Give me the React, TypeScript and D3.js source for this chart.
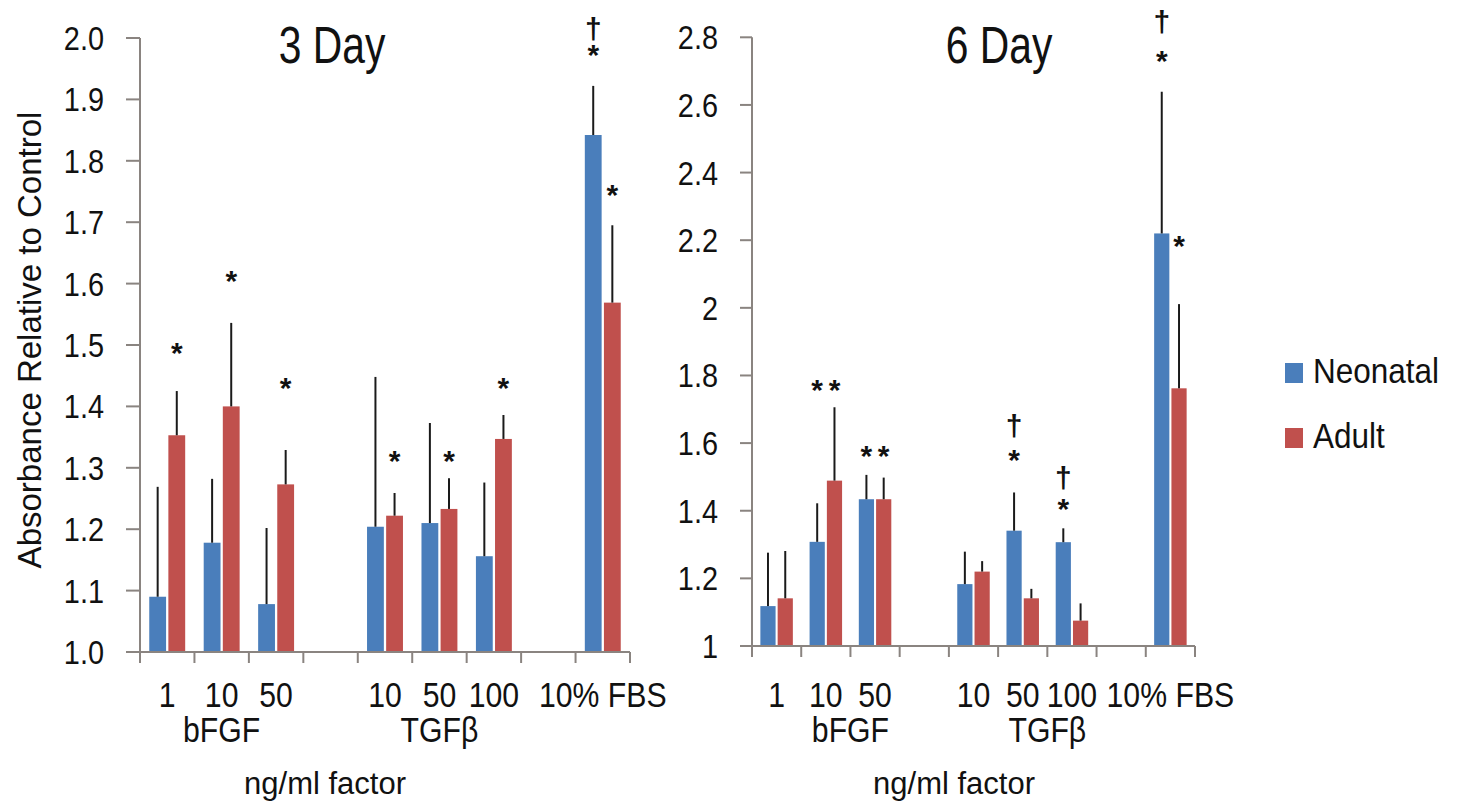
import React, { useEffect, useRef } from 'react';
import * as d3 from 'd3';

// category labels along x (blank slots are the gaps between groups)
const categories = ['1', '10', '50', '', '10', '50', '100', '', '10% FBS'];
const groupLabels = ['bFGF', 'TGFβ'];
const groupMiddle = [1, 5];
const series = ['Neonatal', 'Adult'];
const seriesColors = ['#4a7ebb', '#c0504d'];

// 3 day values (null = empty slot)
const day3Neonatal = [1.09, 1.178, 1.078, null, 1.204, 1.21, 1.156, null, 1.842];
const day3NeonatalErr = [0.179, 0.104, 0.124, null, 0.244, 0.163, 0.12, null, 0.08];
const day3Adult = [1.353, 1.4, 1.273, null, 1.222, 1.233, 1.347, null, 1.569];
const day3AdultErr = [0.072, 0.136, 0.056, null, 0.037, 0.05, 0.039, null, 0.126];

// 6 day values
const day6Neonatal = [1.118, 1.308, 1.434, null, 1.183, 1.341, 1.307, null, 2.22];
const day6NeonatalErr = [0.158, 0.114, 0.072, null, 0.096, 0.113, 0.041, null, 0.419];
const day6Adult = [1.141, 1.489, 1.434, null, 1.22, 1.141, 1.075, null, 1.762];
const day6AdultErr = [0.14, 0.217, 0.064, null, 0.031, 0.028, 0.051, null, 0.249];

const day3Ticks = [1.0, 1.1, 1.2, 1.3, 1.4, 1.5, 1.6, 1.7, 1.8, 1.9, 2.0];
const day3TickLabels = ['1.0', '1.1', '1.2', '1.3', '1.4', '1.5', '1.6', '1.7', '1.8', '1.9', '2.0'];
const day6Ticks = [1, 1.2, 1.4, 1.6, 1.8, 2, 2.2, 2.4, 2.6, 2.8];
const day6TickLabels = ['1', '1.2', '1.4', '1.6', '1.8', '2', '2.2', '2.4', '2.6', '2.8'];

// significance marks: [category, series index, symbol, value where the symbol sits]
const day3Marks = [
  [0, 1, '*', 1.5],
  [1, 1, '*', 1.617],
  [2, 1, '*', 1.443],
  [4, 1, '*', 1.324],
  [5, 1, '*', 1.324],
  [6, 1, '*', 1.443],
  [8, 0, '†', 2.013],
  [8, 0, '*', 1.984],
  [8, 1, '*', 1.756],
];
const day6Marks = [
  [1, 0, '*', 1.778],
  [1, 1, '*', 1.778],
  [2, 0, '*', 1.585],
  [2, 1, '*', 1.585],
  [5, 0, '†', 1.649],
  [5, 0, '*', 1.571],
  [6, 0, '†', 1.494],
  [6, 0, '*', 1.427],
  [8, 0, '†', 2.841],
  [8, 0, '*', 2.752],
  [8, 1, '*', 2.205],
];

const FONT = '"Liberation Sans", Arial, sans-serif';

const panels = [
  {
    title: '3 Day', neo: day3Neonatal, neoErr: day3NeonatalErr, adult: day3Adult, adultErr: day3AdultErr,
    ticks: day3Ticks, tickLabels: day3TickLabels, marks: day3Marks, domain: [1, 2],
    left: 140, right: 630, top: 38, bottom: 652, tickLen: 14,
    titleX: 332, xLabelX: 325, groupShift: 0,
  },
  {
    title: '6 Day', neo: day6Neonatal, neoErr: day6NeonatalErr, adult: day6Adult, adultErr: day6AdultErr,
    ticks: day6Ticks, tickLabels: day6TickLabels, marks: day6Marks, domain: [1, 2.8],
    left: 752, right: 1195, top: 37.3, bottom: 646, tickLen: 12,
    titleX: 999, xLabelX: 954, groupShift: 0.5,
  },
];

function addText(g, str, x, y, size, sx, anchor = 'middle', rotate = 0) {
  return g.append('text')
    .attr('transform', `translate(${x},${y}) rotate(${rotate}) scale(${sx},1)`)
    .attr('text-anchor', anchor)
    .style('font-family', FONT)
    .style('font-size', `${size}px`)
    .attr('fill', '#111')
    .text(str);
}

const App = () => {
  const svgRef = useRef(null);

  useEffect(() => {
    const svg = d3.select(svgRef.current);
    svg.selectAll('*').remove();

    panels.forEach(p => {
      const g = svg.append('g');
      const y = d3.scaleLinear().domain(p.domain).range([p.bottom, p.top]);
      const x = d3.scaleBand()
        .domain(categories.map((c, i) => i))
        .range([p.left, p.right])
        .padding(0);
      const bw = x.bandwidth();
      const pad = bw * 0.17;
      const inner = d3.scaleBand().domain([0, 1]).range([pad, bw - pad]).paddingInner(0.12);

      // bars + error bars
      const seriesData = [[p.neo, p.neoErr], [p.adult, p.adultErr]];
      seriesData.forEach(([vals, errs], s) => {
        vals.forEach((v, i) => {
          if (v == null) return;
          const bx = x(i) + inner(s);
          g.append('rect')
            .attr('x', bx)
            .attr('y', y(v))
            .attr('width', inner.bandwidth())
            .attr('height', y(p.domain[0]) - y(v))
            .attr('fill', seriesColors[s]);
          const cx = bx + inner.bandwidth() / 2;
          g.append('line')
            .attr('x1', cx).attr('x2', cx)
            .attr('y1', y(v)).attr('y2', y(v + errs[i]))
            .attr('stroke', '#1a1a1a')
            .attr('stroke-width', 2);
        });
      });

      // axes
      const axisColor = '#8a8480';
      g.append('line')
        .attr('x1', p.left).attr('x2', p.left)
        .attr('y1', p.top).attr('y2', p.bottom)
        .attr('stroke', axisColor).attr('stroke-width', 2);
      g.append('line')
        .attr('x1', p.left).attr('x2', p.right)
        .attr('y1', p.bottom).attr('y2', p.bottom)
        .attr('stroke', axisColor).attr('stroke-width', 2);

      p.ticks.forEach((t, i) => {
        g.append('line')
          .attr('x1', p.left - p.tickLen).attr('x2', p.left)
          .attr('y1', y(t)).attr('y2', y(t))
          .attr('stroke', axisColor).attr('stroke-width', 2);
        addText(g, p.tickLabels[i], p.left - p.tickLen - 22, y(t) + 12, 34, 0.85, 'end');
      });

      d3.range(categories.length + 1).forEach(i => {
        const tx = p.left + i * bw;
        g.append('line')
          .attr('x1', tx).attr('x2', tx)
          .attr('y1', p.bottom).attr('y2', p.bottom + 11)
          .attr('stroke', axisColor).attr('stroke-width', 2);
      });

      // category and group labels
      categories.forEach((c, i) => {
        if (!c) return;
        addText(g, c, x(i) + bw / 2, 707, 36, 0.84);
      });
      groupLabels.forEach((lab, i) => {
        addText(g, lab, x(groupMiddle[i]) + bw / 2 + p.groupShift * bw, 742, 36, 0.84);
      });
      addText(g, 'ng/ml factor', p.xLabelX, 794, 31, 1);

      // title
      addText(g, p.title, p.titleX, 63, 51, 0.8);

      // significance marks
      p.marks.forEach(([ci, s, sym, v]) => {
        const cx = x(ci) + inner(s) + inner.bandwidth() / 2;
        const fs = 30;
        const off = sym === '*' ? 0.585 * fs : 0.3 * fs;
        addText(g, sym, cx, y(v) + off, fs, 1).style('font-weight', 'bold');
      });
    });

    // y axis title
    addText(svg, 'Absorbance Relative to Control', 41, 340, 33, 1, 'middle', -90);

    // legend
    series.forEach((s, i) => {
      const ly = 363 + i * 65;
      svg.append('rect')
        .attr('x', 1285).attr('y', ly)
        .attr('width', 18).attr('height', 20)
        .attr('fill', seriesColors[i]);
      addText(svg, s, 1313, ly + 20, 35, 0.9, 'start');
    });
  }, []);

  return (
    <svg
      ref={svgRef}
      width={1457}
      height={804}
      style={{ position: 'absolute', left: 0, top: 0, background: '#fff' }}
    ></svg>
  );
};

export default App;
